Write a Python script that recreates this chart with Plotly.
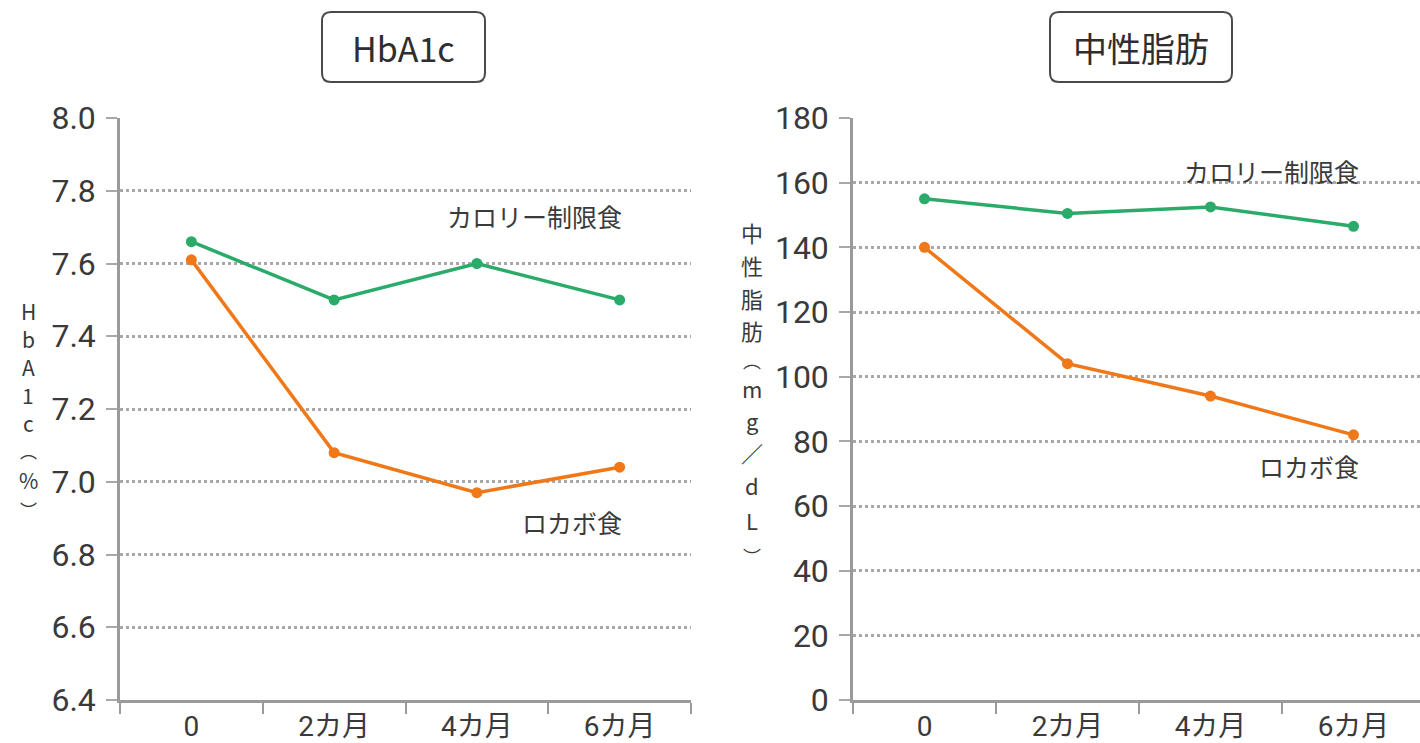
import plotly.graph_objects as go

W, H = 1420, 743

# --- data -------------------------------------------------------------
months = ["0", "2カ月", "4カ月", "6カ月"]

hba1c_calorie = [7.66, 7.50, 7.60, 7.50]
hba1c_lowcarb = [7.61, 7.08, 6.97, 7.04]

tg_calorie = [155, 150.5, 152.5, 146.5]
tg_lowcarb = [140, 104, 94, 82]

hba1c_ticks = [6.4, 6.6, 6.8, 7.0, 7.2, 7.4, 7.6, 7.8, 8.0]
tg_ticks = [0, 20, 40, 60, 80, 100, 120, 140, 160, 180]

series_names = ["カロリー制限食", "ロカボ食"]
panel_titles = ["HbA1c", "中性脂肪"]
hba1c_title_chars = ["H", "b", "A", "1", "c", "︵", "%", "︶"]
tg_title_chars = ["中", "性", "脂", "肪", "︵", "m", "g", "／", "d", "L", "︶"]

# --- styling ----------------------------------------------------------
GREEN = "#2bab6a"
ORANGE = "#f07818"
TEXT = "#3a3a3a"
AXIS = "#9a9a9a"
GRID = "#a8a8a8"
JP = "Noto Sans CJK JP"
NUM = "Liberation Sans Narrow, Roboto, Noto Sans CJK JP"


def px_x(x):
    return x / W


def px_y(y):
    return 1 - y / H


fig = go.Figure()

for xa, ya, cal, low in [("x", "y", hba1c_calorie, hba1c_lowcarb),
                         ("x2", "y2", tg_calorie, tg_lowcarb)]:
    fig.add_trace(go.Scatter(x=months, y=cal, xaxis=xa, yaxis=ya, mode="lines+markers",
                             line=dict(color=GREEN, width=3.5),
                             marker=dict(color=GREEN, size=11),
                             name=series_names[0], showlegend=False))
    fig.add_trace(go.Scatter(x=months, y=low, xaxis=xa, yaxis=ya, mode="lines+markers",
                             line=dict(color=ORANGE, width=3.5),
                             marker=dict(color=ORANGE, size=11),
                             name=series_names[1], showlegend=False))

xaxis_common = dict(
    type="category", categoryorder="array", categoryarray=months,
    showline=True, linecolor=AXIS, linewidth=2.5,
    ticks="outside", tickson="boundaries", ticklen=11, tickwidth=2, tickcolor=AXIS,
    showgrid=False, zeroline=False, automargin=False,
    tickfont=dict(family=NUM, size=28, color=TEXT),
)
yaxis_common = dict(
    showline=True, linecolor=AXIS, linewidth=2.5,
    ticks="outside", ticklen=11, tickwidth=2, tickcolor=GRID,
    showgrid=True, gridcolor=GRID, gridwidth=2.5, griddash="dot",
    zeroline=False, automargin=False,
    tickfont=dict(family=NUM, size=32, color=TEXT),
    ticklabelstandoff=4,
)

y_dom = [px_y(700), px_y(118)]

fig.update_layout(
    width=W, height=H,
    margin=dict(l=0, r=0, t=0, b=0),
    paper_bgcolor="white", plot_bgcolor="white",
    xaxis=dict(xaxis_common, domain=[px_x(120), px_x(691)], range=[-0.5, 3.5], anchor="y"),
    yaxis=dict(yaxis_common, domain=y_dom, range=[6.4, 8.0],
               tickvals=hba1c_ticks, tickformat=".1f", anchor="x"),
    xaxis2=dict(xaxis_common, domain=[px_x(853), 1.0],
                range=[-0.5, (W - 853) / 143 - 0.5], anchor="y2"),
    yaxis2=dict(yaxis_common, domain=y_dom, range=[0, 180],
                tickvals=tg_ticks, anchor="x2"),
)


# --- boxed panel titles -------------------------------------------------
def rounded_box(x0, y0, x1, y1, r):
    X = lambda v: px_x(v)
    Y = lambda v: px_y(v)
    return (f"M {X(x0 + r)},{Y(y0)} L {X(x1 - r)},{Y(y0)} Q {X(x1)},{Y(y0)} {X(x1)},{Y(y0 + r)} "
            f"L {X(x1)},{Y(y1 - r)} Q {X(x1)},{Y(y1)} {X(x1 - r)},{Y(y1)} "
            f"L {X(x0 + r)},{Y(y1)} Q {X(x0)},{Y(y1)} {X(x0)},{Y(y1 - r)} "
            f"L {X(x0)},{Y(y0 + r)} Q {X(x0)},{Y(y0)} {X(x0 + r)},{Y(y0)} Z")


for (x0, x1), title in zip([(322, 485), (1050, 1232)], panel_titles):
    fig.add_shape(type="path", xref="paper", yref="paper",
                  path=rounded_box(x0, 12, x1, 82, 9),
                  line=dict(color="#4a4a4a", width=2))
    fig.add_annotation(x=px_x((x0 + x1) / 2), y=px_y(47), xref="paper", yref="paper",
                       text=title, showarrow=False, xanchor="center", yanchor="middle",
                       font=dict(family=JP, size=34, color="#2e2e2e"))

# --- vertical axis titles (one glyph per line, stacked top to bottom) -----
hba1c_char_y = [311, 339, 367, 395, 423, 450, 480, 510]
tg_char_y = [232, 265, 298, 330, 360, 388, 420, 452, 485, 520, 556]
for chars, ys, xc, fs in [(hba1c_title_chars, hba1c_char_y, 28, 21),
                          (tg_title_chars, tg_char_y, 752, 22)]:
    for ch, yc in zip(chars, ys):
        size = fs - 4 if ch in ("︵", "︶") else fs
        fig.add_annotation(x=px_x(xc), y=px_y(yc), xref="paper", yref="paper",
                           text=ch, showarrow=False, xanchor="center", yanchor="middle",
                           borderpad=0,
                           font=dict(family=JP, size=size, color=TEXT))

# --- series labels ------------------------------------------------------
labels = [
    ("x", "y", 3.03, 7.73, series_names[0]),
    ("x", "y", 3.03, 6.89, series_names[1]),
    ("x2", "y2", 3.05, 163.5, series_names[0]),
    ("x2", "y2", 3.05, 72.5, series_names[1]),
]
for xr, yr, xv, yv, txt in labels:
    fig.add_annotation(x=xv, y=yv, xref=xr, yref=yr, text=txt, showarrow=False,
                       xanchor="right", yanchor="middle",
                       font=dict(family=JP, size=25, color=TEXT))

fig.write_html("out.html")
